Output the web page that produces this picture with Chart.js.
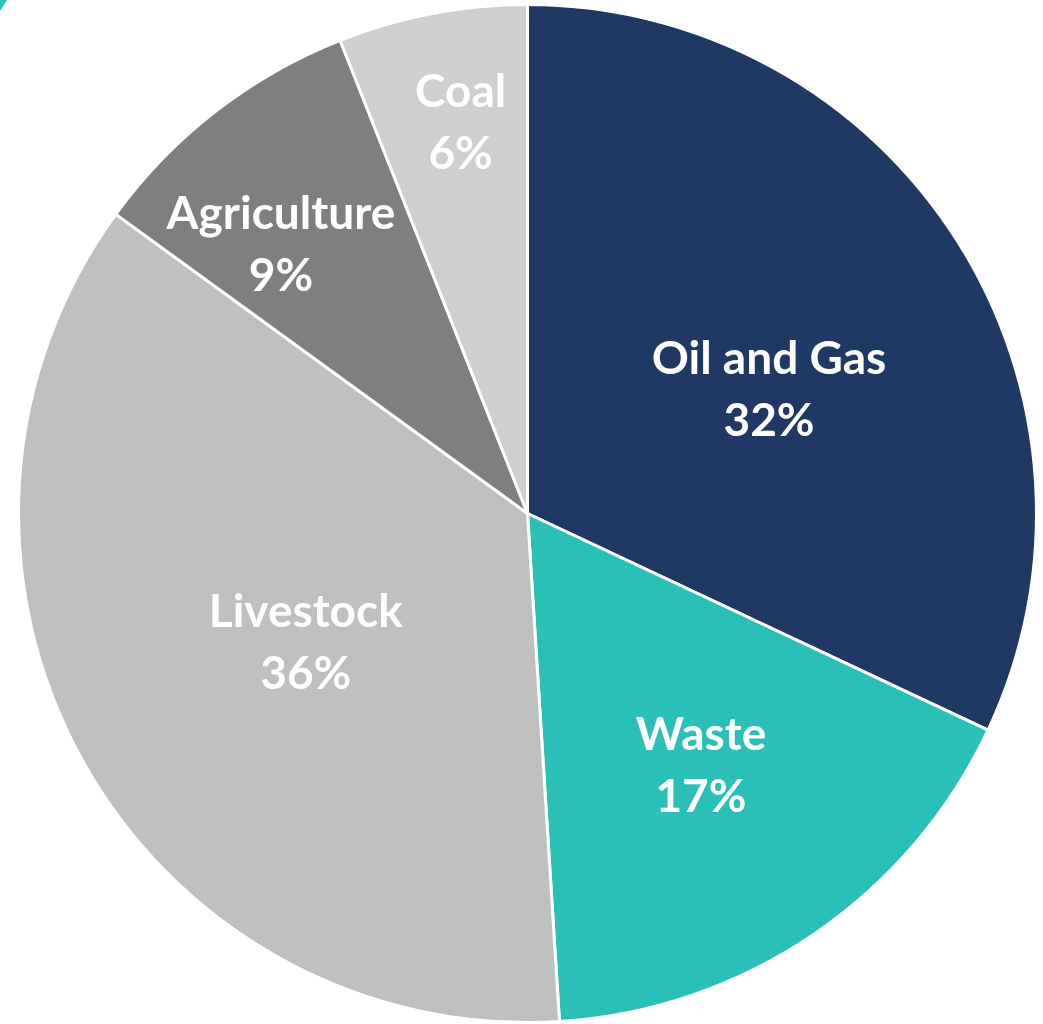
<!DOCTYPE html>
<html>
<head>
<meta charset="utf-8">
<script src="https://cdn.jsdelivr.net/npm/chart.js@4.4.1/dist/chart.umd.min.js"></script>
<style>
  html, body { margin: 0; padding: 0; background: #ffffff; }
  #wrap { position: relative; width: 1043px; height: 1024px; }
  #corner {
    position: absolute; left: 0; top: 0; width: 7px; height: 11px;
    background: #2dc1b8; clip-path: polygon(0 0, 100% 0, 0 100%);
  }
</style>
</head>
<body>
<div id="wrap">
  <canvas id="chart" width="1043" height="1024"></canvas>
  <div id="corner"></div>
</div>
<script>
const sources = ["Oil and Gas", "Waste", "Livestock", "Agriculture", "Coal"];
const shares = [32, 17, 36, 9, 6];
const sliceColors = ["#203864", "#2bc0b7", "#bfbfbf", "#7f7f7f", "#d0cece"];

// where each label sits: fraction of the radius, angle in degrees clockwise from 12 o'clock
const labelSpots = [
  [0.534, 62.7],
  [0.600, 145.4],
  [0.503, 240.0],
  [0.717, 317.5],
  [0.780, 350.3],
];

const sliceLabels = {
  id: "sliceLabels",
  afterDatasetsDraw(chart) {
    const { ctx } = chart;
    const arcs = chart.getDatasetMeta(0).data;
    ctx.save();
    ctx.fillStyle = "#ffffff";
    ctx.font = "bold 46px Lato";
    ctx.textAlign = "center";
    ctx.textBaseline = "alphabetic";
    arcs.forEach((arc, i) => {
      const [frac, deg] = labelSpots[i];
      const a = (deg * Math.PI) / 180;
      const r = arc.outerRadius * frac;
      const cx = arc.x + r * Math.sin(a);
      const cy = arc.y - r * Math.cos(a);
      const lines = [chart.data.labels[i], shares[i] + "%"];
      ctx.fillText(lines[0], cx, cy - 31 + 16);
      ctx.fillText(lines[1], cx, cy + 31 + 16);
    });
    ctx.restore();
  },
};

new Chart(document.getElementById("chart"), {
  type: "pie",
  data: {
    labels: sources,
    datasets: [
      {
        data: shares,
        backgroundColor: sliceColors,
        borderColor: "#ffffff",
        borderWidth: 3,
      },
    ],
  },
  options: {
    responsive: false,
    animation: false,
    layout: { padding: { left: 16, right: 4, top: 3, bottom: 0 } },
    plugins: {
      legend: { display: false },
      tooltip: { enabled: false },
    },
  },
  plugins: [sliceLabels],
});
</script>
</body>
</html>
